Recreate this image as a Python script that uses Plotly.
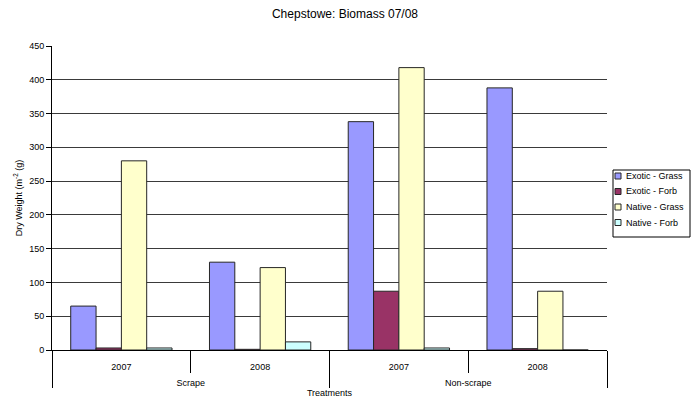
import plotly.graph_objects as go

# Treatment groups and sampling years (two-level category axis)
treatments = ["Scrape", "Scrape", "Non-scrape", "Non-scrape"]
years = ["2007", "2008", "2007", "2008"]

# Dry weight per m^2 (g) by functional group
exotic_grass = [65, 130, 338, 388]
exotic_forb = [3, 1, 87, 2]
native_grass = [280, 122, 418, 87]
native_forb = [3, 12, 3, 0]

series_names = ["Exotic - Grass", "Exotic - Forb", "Native - Grass", "Native - Forb"]
series_values = [exotic_grass, exotic_forb, native_grass, native_forb]
series_colors = ["#9999FF", "#993366", "#FFFFCC", "#CCFFFF"]

FONT = "Liberation Sans, Arial, sans-serif"
W, H = 697, 398
ML, MR, MT, MB = 52, 90, 46, 48
PW, PH = W - ML - MR, H - MT - MB


def px_x(px):
    return (px - ML) / PW


def px_y(py):
    return (H - MB - py) / PH


# Outer-level labels sit one line lower than the year labels
outer_labels = ["<br>" + t for t in treatments]

fig = go.Figure()
for name, vals, color in zip(series_names, series_values, series_colors):
    fig.add_trace(go.Bar(
        name=name,
        x=[outer_labels, years],
        y=vals,
        marker=dict(color=color, line=dict(color="#262626", width=1)),
        showlegend=False,
    ))

# Boxed legend to the right of the plot area
shapes = [dict(
    type="rect", xref="paper", yref="paper",
    x0=px_x(613), x1=px_x(690), y0=px_y(237), y1=px_y(170),
    line=dict(color="black", width=1), fillcolor="white",
)]
annotations = []
row_y = [176, 191.5, 207, 222.5]
for name, color, ry in zip(series_names, series_colors, row_y):
    shapes.append(dict(
        type="rect", xref="paper", yref="paper",
        x0=px_x(615), x1=px_x(621), y0=px_y(ry + 3), y1=px_y(ry - 3),
        line=dict(color="#262626", width=1), fillcolor=color,
    ))
    annotations.append(dict(
        text=name, xref="paper", yref="paper",
        x=px_x(624), y=px_y(ry), xanchor="left", yanchor="middle",
        showarrow=False, font=dict(family=FONT, size=9, color="black"),
    ))

fig.update_layout(
    width=W,
    height=H,
    margin=dict(l=ML, r=MR, t=MT, b=MB),
    paper_bgcolor="white",
    plot_bgcolor="white",
    barmode="group",
    bargap=0.27,
    bargroupgap=0,
    font=dict(family=FONT, size=9, color="black"),
    title=dict(
        text="Chepstowe: Biomass 07/08",
        x=0.495, xref="container", xanchor="center",
        y=0.965, yref="container", yanchor="middle",
        font=dict(family=FONT, size=12, color="black"),
    ),
    shapes=shapes,
    annotations=annotations,
    showlegend=False,
)

fig.update_yaxes(
    range=[0, 450],
    dtick=50,
    showgrid=True,
    gridcolor="#3a3a3a",
    gridwidth=1,
    showline=True,
    linecolor="black",
    linewidth=1,
    ticks="outside",
    ticklen=5,
    tickcolor="black",
    tickfont=dict(family=FONT, size=9),
    zeroline=False,
    title=dict(text="Dry Weight (m<sup>-2</sup> (g)", font=dict(family=FONT, size=9), standoff=5),
)

fig.update_xaxes(
    type="multicategory",
    showline=True,
    linecolor="black",
    linewidth=1,
    ticks="outside",
    ticklen=22,
    tickcolor="black",
    tickson="boundaries",
    ticklabelstandoff=8,
    showdividers=True,
    dividercolor="black",
    dividerwidth=1,
    tickfont=dict(family=FONT, size=9),
    showgrid=False,
    title=dict(text="Treatments", font=dict(family=FONT, size=9), standoff=3),
    automargin=False,
)

fig.write_html("out.html")
